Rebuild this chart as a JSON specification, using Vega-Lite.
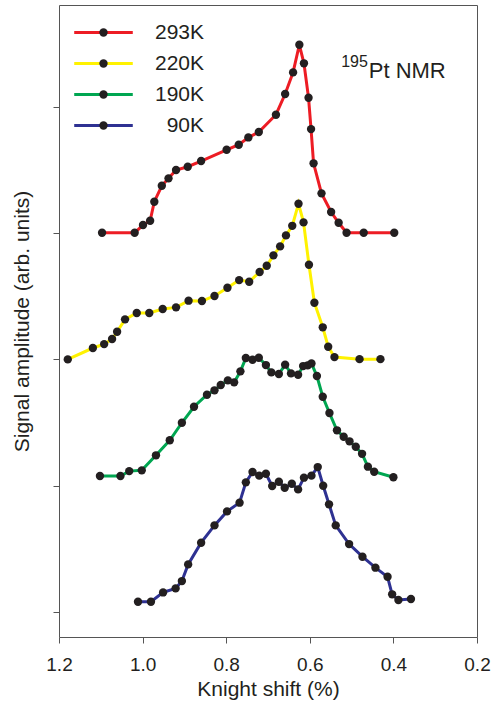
{
  "$schema": "https://vega.github.io/schema/vega-lite/v6.json",
  "width": 418,
  "height": 632,
  "autosize": {"type": "none"},
  "padding": {"left": 59, "top": 5, "right": 17, "bottom": 74},
  "background": "white",
  "config": {
    "view": {"stroke": "#555", "strokeWidth": 1},
    "font": "Liberation Sans",
    "axis": {"grid": false, "domain": false, "tickColor": "#555", "tickSize": 6, "labelColor": "#231f20", "titleColor": "#231f20", "titleFontWeight": "normal", "labelFont": "Liberation Sans", "titleFont": "Liberation Sans", "labelFlush": false},
    "legend": {"labelFont": "Liberation Sans", "labelColor": "#231f20"}
  },
  "data": {"values": [
    {"s":"293K","x":1.097,"y":3.002},{"s":"293K","x":1.019,"y":3.002},{"s":"293K","x":0.999,"y":3.063},{"s":"293K","x":0.982,"y":3.097},{"s":"293K","x":0.972,"y":3.248},{"s":"293K","x":0.954,"y":3.374},{"s":"293K","x":0.938,"y":3.433},{"s":"293K","x":0.920,"y":3.499},{"s":"293K","x":0.892,"y":3.525},{"s":"293K","x":0.860,"y":3.570},{"s":"293K","x":0.799,"y":3.659},{"s":"293K","x":0.770,"y":3.699},{"s":"293K","x":0.747,"y":3.757},{"s":"293K","x":0.722,"y":3.800},{"s":"293K","x":0.681,"y":3.937},{"s":"293K","x":0.659,"y":4.101},{"s":"293K","x":0.640,"y":4.272},{"s":"293K","x":0.625,"y":4.491},{"s":"293K","x":0.614,"y":4.344},{"s":"293K","x":0.603,"y":4.071},{"s":"293K","x":0.597,"y":3.823},{"s":"293K","x":0.591,"y":3.552},{"s":"293K","x":0.572,"y":3.314},{"s":"293K","x":0.549,"y":3.166},{"s":"293K","x":0.531,"y":3.081},{"s":"293K","x":0.512,"y":3.002},{"s":"293K","x":0.471,"y":3.002},{"s":"293K","x":0.398,"y":3.002},
    {"s":"220K","x":1.179,"y":1.999},{"s":"220K","x":1.119,"y":2.089},{"s":"220K","x":1.092,"y":2.120},{"s":"220K","x":1.073,"y":2.160},{"s":"220K","x":1.061,"y":2.218},{"s":"220K","x":1.042,"y":2.316},{"s":"220K","x":1.014,"y":2.366},{"s":"220K","x":0.984,"y":2.366},{"s":"220K","x":0.952,"y":2.398},{"s":"220K","x":0.920,"y":2.411},{"s":"220K","x":0.890,"y":2.464},{"s":"220K","x":0.858,"y":2.461},{"s":"220K","x":0.828,"y":2.501},{"s":"220K","x":0.797,"y":2.566},{"s":"220K","x":0.769,"y":2.627},{"s":"220K","x":0.745,"y":2.614},{"s":"220K","x":0.720,"y":2.691},{"s":"220K","x":0.703,"y":2.741},{"s":"220K","x":0.687,"y":2.823},{"s":"220K","x":0.671,"y":2.894},{"s":"220K","x":0.657,"y":2.981},{"s":"220K","x":0.642,"y":3.057},{"s":"220K","x":0.627,"y":3.232},{"s":"220K","x":0.615,"y":3.084},{"s":"220K","x":0.602,"y":2.749},{"s":"220K","x":0.589,"y":2.448},{"s":"220K","x":0.569,"y":2.253},{"s":"220K","x":0.556,"y":2.099},{"s":"220K","x":0.541,"y":2.017},{"s":"220K","x":0.481,"y":2.001},{"s":"220K","x":0.431,"y":2.001},
    {"s":"190K","x":1.102,"y":1.075},{"s":"190K","x":1.053,"y":1.075},{"s":"190K","x":1.032,"y":1.114},{"s":"190K","x":1.002,"y":1.120},{"s":"190K","x":0.968,"y":1.239},{"s":"190K","x":0.935,"y":1.358},{"s":"190K","x":0.906,"y":1.497},{"s":"190K","x":0.877,"y":1.624},{"s":"190K","x":0.846,"y":1.719},{"s":"190K","x":0.828,"y":1.754},{"s":"190K","x":0.813,"y":1.796},{"s":"190K","x":0.796,"y":1.833},{"s":"190K","x":0.781,"y":1.817},{"s":"190K","x":0.766,"y":1.904},{"s":"190K","x":0.753,"y":2.010},{"s":"190K","x":0.737,"y":1.996},{"s":"190K","x":0.722,"y":2.012},{"s":"190K","x":0.705,"y":1.954},{"s":"190K","x":0.692,"y":1.896},{"s":"190K","x":0.674,"y":1.883},{"s":"190K","x":0.659,"y":1.957},{"s":"190K","x":0.645,"y":1.888},{"s":"190K","x":0.628,"y":1.877},{"s":"190K","x":0.616,"y":1.946},{"s":"190K","x":0.605,"y":1.952},{"s":"190K","x":0.596,"y":1.967},{"s":"190K","x":0.583,"y":1.867},{"s":"190K","x":0.569,"y":1.703},{"s":"190K","x":0.553,"y":1.574},{"s":"190K","x":0.535,"y":1.437},{"s":"190K","x":0.519,"y":1.386},{"s":"190K","x":0.505,"y":1.350},{"s":"190K","x":0.490,"y":1.307},{"s":"190K","x":0.475,"y":1.251},{"s":"190K","x":0.461,"y":1.149},{"s":"190K","x":0.446,"y":1.109},{"s":"190K","x":0.400,"y":1.065},
    {"s":"90K","x":1.011,"y":0.079},{"s":"90K","x":0.980,"y":0.079},{"s":"90K","x":0.951,"y":0.153},{"s":"90K","x":0.921,"y":0.185},{"s":"90K","x":0.906,"y":0.243},{"s":"90K","x":0.891,"y":0.375},{"s":"90K","x":0.860,"y":0.547},{"s":"90K","x":0.828,"y":0.684},{"s":"90K","x":0.798,"y":0.795},{"s":"90K","x":0.768,"y":0.864},{"s":"90K","x":0.753,"y":1.025},{"s":"90K","x":0.737,"y":1.107},{"s":"90K","x":0.721,"y":1.078},{"s":"90K","x":0.705,"y":1.093},{"s":"90K","x":0.690,"y":0.996},{"s":"90K","x":0.674,"y":1.030},{"s":"90K","x":0.660,"y":0.982},{"s":"90K","x":0.643,"y":1.014},{"s":"90K","x":0.628,"y":0.969},{"s":"90K","x":0.614,"y":1.062},{"s":"90K","x":0.596,"y":1.078},{"s":"90K","x":0.581,"y":1.146},{"s":"90K","x":0.568,"y":0.998},{"s":"90K","x":0.554,"y":0.851},{"s":"90K","x":0.538,"y":0.684},{"s":"90K","x":0.506,"y":0.536},{"s":"90K","x":0.474,"y":0.436},{"s":"90K","x":0.443,"y":0.349},{"s":"90K","x":0.414,"y":0.277},{"s":"90K","x":0.403,"y":0.138},{"s":"90K","x":0.388,"y":0.093},{"s":"90K","x":0.358,"y":0.101}
  ]},
  "encoding": {
    "x": {"field": "x", "type": "quantitative",
      "scale": {"domain": [0.2, 1.2], "reverse": true, "nice": false, "zero": false},
      "axis": {"values": [0.2, 0.4, 0.6, 0.8, 1.0, 1.2], "format": ".1f", "labelFontSize": 19, "labelPadding": 12, "title": "Knight shift (%)", "titleFontSize": 21, "titlePadding": 4}},
    "y": {"field": "y", "type": "quantitative",
      "scale": {"domain": [-0.2, 4.806], "nice": false, "zero": false},
      "axis": {"values": [0, 1, 2, 3, 4], "labels": false, "title": "Signal amplitude (arb. units)", "titleFontSize": 21, "titlePadding": 20}}
  },
  "layer": [
    {
      "mark": {"type": "line", "strokeWidth": 3},
      "encoding": {
        "color": {"field": "s", "type": "nominal",
          "scale": {"domain": ["293K", "220K", "190K", "90K"], "range": ["#ed1c24", "#fff200", "#00a651", "#2e3192"]},
          "legend": {"orient": "none", "legendX": 34, "legendY": 17, "title": null, "symbolType": "M-7,0H7", "symbolSize": 70, "symbolStrokeWidth": 3, "labelFontSize": 21, "labelExpr": "''", "labelOffset": 40, "rowPadding": 9, "padding": 0}}
      }
    },
    {
      "mark": {"type": "point", "filled": true, "size": 70, "color": "#231f20", "opacity": 1},
      "encoding": {
        "shape": {"field": "s", "type": "nominal", "sort": ["293K", "220K", "190K", "90K"],
          "scale": {"range": ["circle", "circle", "circle", "circle"]},
          "legend": {"orient": "none", "legendX": 34, "legendY": 17, "title": null, "symbolSize": 70, "symbolFillColor": "#231f20", "symbolStrokeColor": "#231f20", "symbolStrokeWidth": 0, "labelFontSize": 21, "labelAlign": "right", "labelOffset": 90, "rowPadding": 9, "padding": 0}}
      }
    },
    {
      "data": {"values": [{"t": "Pt NMR", "x": 0.459, "y": 4.227}]},
      "mark": {"type": "text", "align": "left", "baseline": "alphabetic", "fontSize": 22, "color": "#231f20"},
      "encoding": {"text": {"field": "t"}}
    },
    {
      "data": {"values": [{"t": "195", "x": 0.525, "y": 4.313}]},
      "mark": {"type": "text", "align": "left", "baseline": "alphabetic", "fontSize": 16, "color": "#231f20"},
      "encoding": {"text": {"field": "t"}}
    }
  ]
}
